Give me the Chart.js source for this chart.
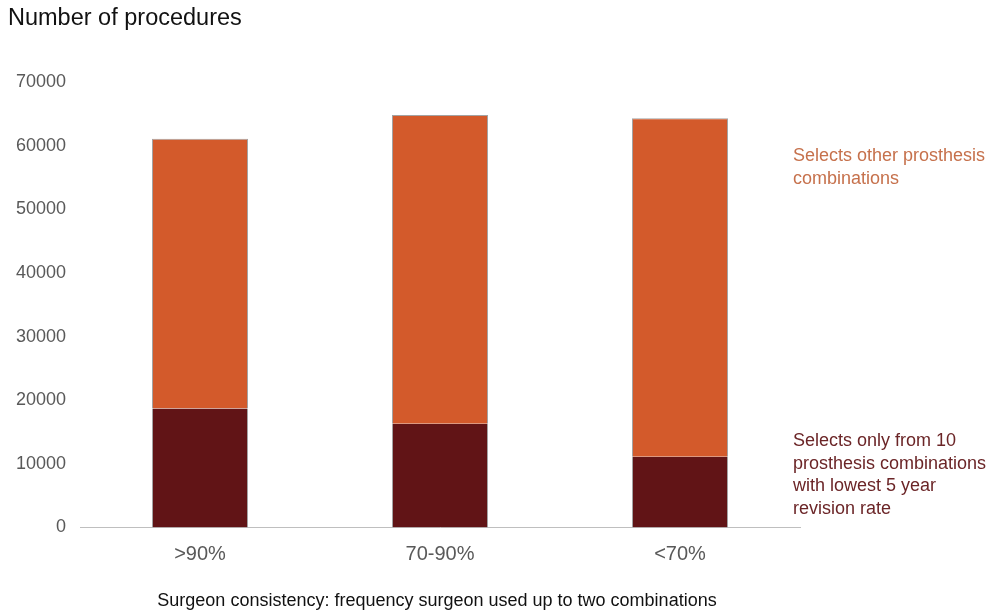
<!DOCTYPE html>
<html lang="en">
<head>
  <meta charset="UTF-8" />
  <title>Number of procedures</title>
  <script src="https://cdn.jsdelivr.net/npm/chart.js"></script>
  <style>
    html, body { margin: 0; padding: 0; background: #fff; }
    body { width: 993px; height: 610px; position: relative; overflow: hidden; font-family: "Liberation Sans", Arial, sans-serif; }
    #wrap { position: absolute; left: 0; top: 0; width: 993px; height: 610px; }
    .note { position: absolute; left: 793px; font-size: 18px; line-height: 22.5px; white-space: nowrap; }
    #yTitle { position: absolute; left: 8px; top: 4px; font-size: 23.5px; color: #111; }
    #xTitle { position: absolute; left: 0; width: 874px; top: 590px; text-align: center; font-size: 18px; color: #111; }
  </style>
</head>
<body>
  <div id="wrap"><canvas id="procChart" width="993" height="610"></canvas></div>

  <div id="yTitle">Number of procedures</div>
  <div id="xTitle">Surgeon consistency: frequency surgeon used up to two combinations</div>
  <div class="note" style="top:144px; color:#c6714c;">Selects other prosthesis<br>combinations</div>
  <div class="note" style="top:429px; color:#6b2527;">Selects only from 10<br>prosthesis combinations<br>with lowest 5 year<br>revision rate</div>

  <script>
    // data
    const categories = ['>90%', '70-90%', '<70%'];
    const lowestRevision = [18700, 16300, 11100];   // dark part
    const otherCombos = [42400, 48500, 53200];      // orange part, stacked on top
    const yTicks = [0, 10000, 20000, 30000, 40000, 50000, 60000, 70000];

    const ctx = document.getElementById('procChart').getContext('2d');

    new Chart(ctx, {
      type: 'bar',
      data: {
        labels: categories,
        datasets: [
          {
            label: 'Selects only from 10 prosthesis combinations with lowest 5 year revision rate',
            data: lowestRevision,
            backgroundColor: '#611416',
            borderColor: 'rgba(140,140,140,0.8)',
            borderWidth: { left: 1, right: 1, top: 0, bottom: 0 },
            borderSkipped: false,
            categoryPercentage: 1,
            barPercentage: 0.4
          },
          {
            label: 'Selects other prosthesis combinations',
            data: otherCombos,
            backgroundColor: '#d35a2b',
            borderColor: 'rgba(140,140,140,0.8)',
            borderWidth: { left: 1, right: 1, top: 1, bottom: 0 },
            borderSkipped: false,
            categoryPercentage: 1,
            barPercentage: 0.4
          }
        ]
      },
      options: {
        responsive: false,
        animation: false,
        layout: { padding: { left: 0, right: 193, top: 82, bottom: 0 } },
        plugins: {
          legend: { display: false },
          tooltip: { enabled: false }
        },
        scales: {
          x: {
            stacked: true,
            grid: { display: false, drawTicks: false },
            border: { display: true, color: '#bfbfbf', width: 1 },
            ticks: {
              color: '#595959',
              font: { family: 'Liberation Sans', size: 20 },
              padding: 15
            },
            afterFit: s => { s.height = 82.5; }
          },
          y: {
            stacked: true,
            min: 0,
            max: 70000,
            grid: { display: false, drawTicks: false },
            border: { display: false },
            afterBuildTicks: s => { s.ticks = yTicks.map(v => ({ value: v })); },
            ticks: {
              color: '#595959',
              font: { family: 'Liberation Sans', size: 18 },
              padding: 14,
              callback: v => String(v)
            },
            afterFit: s => { s.width = 80; }
          }
        }
      }
    });
  </script>
</body>
</html>
